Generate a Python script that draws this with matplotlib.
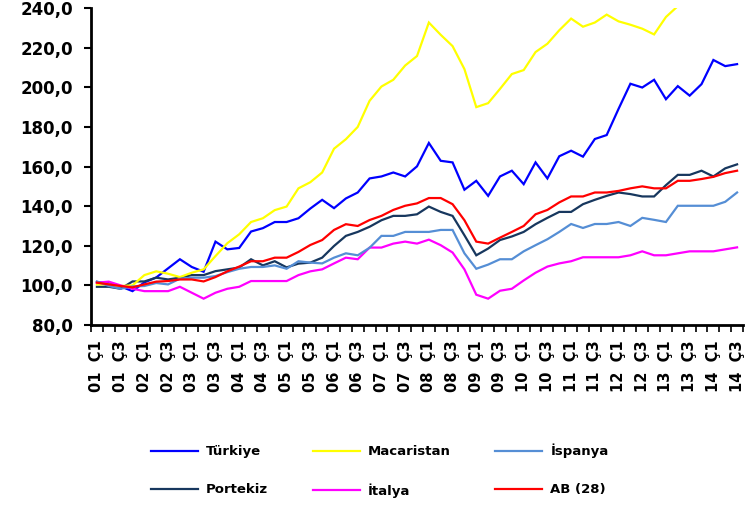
import matplotlib
matplotlib.use('Agg')
import matplotlib.pyplot as plt
from matplotlib.ticker import FuncFormatter, FixedLocator

plt.rcParams['font.family'] = ['DejaVu Sans']

# quarters 2001 Q1 .. 2014 Q3
years = [f'{y:02d}' for y in range(1, 15)]
quarters = [f'{y}  Ç{q}' for y in years for q in (1, 2, 3, 4)][:55]

turkiye = [101.7, 101.2, 99.5, 97.1, 101.5, 104.0, 108.6, 113.2, 109.3, 106.9,
           122.1, 118.2, 118.9, 127.2, 128.9, 132.0, 132.0, 133.9, 138.8, 143.2,
           139.0, 143.9, 146.9, 154.0, 155.0, 157.0, 155.0, 160.1, 171.9, 162.9,
           162.1, 148.3, 152.8, 145.2, 155.0, 157.9, 151.1, 162.1, 154.0, 165.2,
           168.0, 165.0, 173.9, 175.9, 189.1, 201.8, 199.9, 203.8, 194.0, 200.6,
           195.8, 201.6, 213.8, 210.7, 211.7]
macaristan = [100.5, 100.5, 99.7, 100.0, 105.2, 107.1, 105.9, 104.2, 106.4, 108.1,
              114.8, 121.3, 125.8, 132.0, 133.9, 138.0, 139.8, 149.0, 152.1, 157.0,
              169.0, 173.8, 180.0, 193.2, 200.4, 203.8, 211.0, 215.8, 232.7, 226.5,
              220.8, 209.2, 190.0, 192.0, 199.2, 206.7, 208.7, 217.8, 222.0, 228.8,
              234.7, 230.6, 232.7, 236.7, 233.3, 231.6, 229.6, 226.7, 235.5, 241.0,
              244.0, 246.0, 249.0, 251.0, 253.0]
ispanya = [102.0, 99.7, 98.3, 99.5, 99.7, 101.2, 100.5, 103.4, 103.9, 103.9,
           104.7, 106.7, 108.4, 109.3, 109.3, 110.1, 108.4, 112.2, 111.5, 111.1,
           114.0, 116.2, 115.2, 119.0, 125.0, 125.0, 127.0, 127.0, 127.0, 128.0,
           128.0, 116.2, 108.4, 110.5, 113.2, 113.2, 117.2, 120.3, 123.3, 127.0,
           131.0, 129.0, 131.0, 131.0, 132.0, 130.0, 134.1, 133.1, 132.0, 140.2,
           140.2, 140.2, 140.2, 142.2, 146.9]
portekiz = [99.3, 99.3, 98.3, 102.0, 102.0, 103.9, 103.0, 103.9, 105.2, 105.2,
            107.2, 108.1, 109.0, 113.2, 110.1, 112.2, 109.1, 111.0, 111.5, 114.0,
            119.9, 125.0, 127.0, 129.6, 132.9, 135.1, 135.1, 135.9, 139.8, 137.1,
            135.1, 125.3, 115.2, 118.6, 122.9, 124.7, 127.0, 130.9, 134.1, 137.1,
            137.1, 141.0, 143.2, 145.2, 146.9, 146.1, 144.9, 144.9, 150.6, 155.8,
            155.8, 157.9, 155.0, 159.1, 161.1]
italya = [101.4, 101.9, 100.0, 98.3, 97.1, 97.1, 97.1, 99.3, 96.3, 93.3,
          96.3, 98.3, 99.3, 102.2, 102.2, 102.2, 102.2, 105.2, 107.1, 108.1,
          111.1, 114.0, 113.2, 119.1, 119.1, 121.1, 122.1, 121.1, 123.1, 120.3,
          116.6, 108.1, 95.3, 93.3, 97.3, 98.3, 102.5, 106.4, 109.5, 111.1,
          112.2, 114.2, 114.2, 114.2, 114.2, 115.2, 117.2, 115.2, 115.2, 116.2,
          117.2, 117.2, 117.2, 118.2, 119.2]
ab28 = [101.4, 100.5, 99.7, 99.0, 100.5, 101.9, 102.2, 103.0, 103.0, 102.0,
        104.2, 107.1, 109.5, 112.2, 112.2, 114.0, 114.0, 116.9, 120.4, 122.9,
        128.0, 130.9, 130.0, 133.0, 135.1, 138.1, 140.2, 141.4, 144.1, 144.1,
        141.0, 132.9, 122.1, 121.1, 124.1, 127.0, 130.0, 135.9, 138.1, 141.9,
        144.9, 144.9, 146.9, 146.9, 147.7, 149.0, 150.0, 149.0, 149.0, 152.8,
        152.8, 153.7, 154.8, 156.7, 157.9]

# legend order column-wise (3 columns x 2 rows)
series = [
    ('Türkiye', turkiye, '#0000FF'),
    ('Portekiz', portekiz, '#17375E'),
    ('Macaristan', macaristan, '#FFFF00'),
    ('İtalya', italya, '#FF00FF'),
    ('İspanya', ispanya, '#558ED5'),
    ('AB (28)', ab28, '#FF0000'),
]

fig = plt.figure(figsize=(7.49, 5.05), dpi=100)
ax = fig.add_axes([0.1215, 0.3564, 0.8705, 0.6276])

x = list(range(len(quarters)))
for name, vals, col in series:
    ax.plot(x, vals, color=col, lw=1.6, label=name, solid_joinstyle='miter')

ax.set_ylim(80, 240)
ax.set_xlim(-0.5, len(quarters) - 0.5)
ax.set_yticks(range(80, 241, 20))
ax.yaxis.set_major_formatter(FuncFormatter(lambda v, p: f'{v:.1f}'.replace('.', ',')))
for lab in ax.get_yticklabels():
    lab.set_fontweight('bold')
    lab.set_fontsize(12)

# tick marks at category boundaries, labels every second quarter
ax.xaxis.set_major_locator(FixedLocator([i - 0.5 for i in range(len(quarters) + 1)]))
ax.xaxis.set_major_formatter(FuncFormatter(lambda v, p: ''))
ax.xaxis.set_minor_locator(FixedLocator(x[::2]))
ax.set_xticklabels(quarters[::2], minor=True, rotation=90, fontsize=10.5,
                   fontweight='bold')
ax.tick_params(axis='x', which='minor', length=0, pad=11)
ax.tick_params(axis='x', which='major', length=5, width=1.2, direction='out')
ax.tick_params(axis='y', length=5, width=1.5, direction='out', pad=8)

for s in ('top', 'right'):
    ax.spines[s].set_visible(False)
for s in ('left', 'bottom'):
    ax.spines[s].set_linewidth(2)

fig.legend(loc='center', bbox_to_anchor=(0.507, 0.068), ncol=3, frameon=False,
           prop={'weight': 'bold', 'size': 9.5}, handlelength=3.56,
           handletextpad=0.6, columnspacing=3.4, labelspacing=1.9)

fig.savefig('out.png', dpi=100)
